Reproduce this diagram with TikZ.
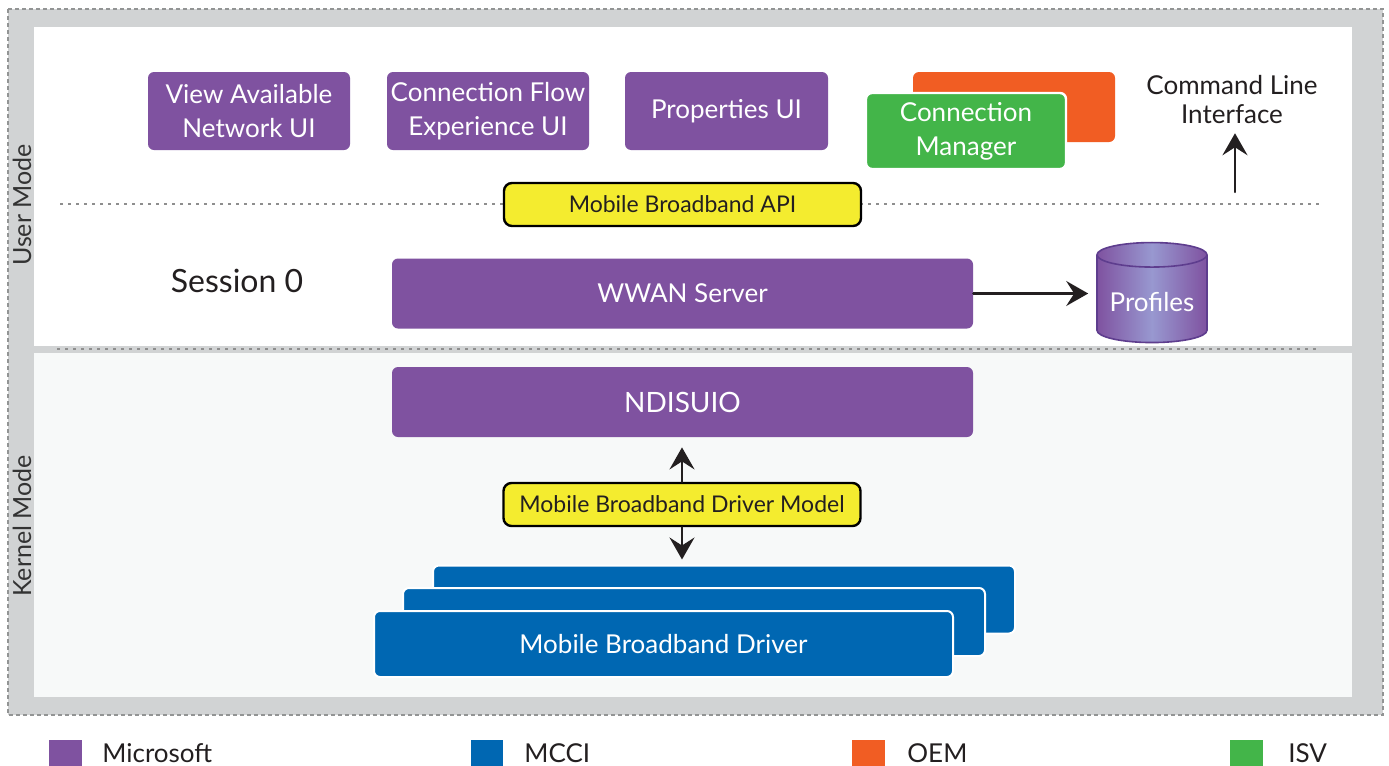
\documentclass[tikz,border=0pt]{standalone}
\usepackage{fontspec}
\setmainfont{Lato}
\usepackage{tikz}
\usetikzlibrary{arrows.meta, shapes.geometric, positioning}
\definecolor{msPurple}{HTML}{7F52A0}
\definecolor{msLavender}{HTML}{9898D0}
\definecolor{msRim}{HTML}{5E3D8E}
\definecolor{mcciBlue}{HTML}{0067B2}
\definecolor{oemOrange}{HTML}{F15D23}
\definecolor{isvGreen}{HTML}{43B549}
\definecolor{apiYellow}{HTML}{F4EC2F}
\definecolor{frameGray}{HTML}{D1D3D4}
\definecolor{kernelBg}{HTML}{F7F9F9}
\definecolor{dotGray}{HTML}{8E8E8E}
\definecolor{inkBlack}{HTML}{231F20}

\begin{document}
\begin{tikzpicture}[x=0.5pt, y=-0.5pt, style={line cap=round},
  ui/.style={rounded corners=3pt, align=center, text=white, inner sep=0pt,
    font=\fontsize{13}{17}\selectfont},
  msbox/.style={ui, fill=msPurple},
  wide/.style={msbox, minimum width=290.5pt, minimum height=35pt},
  drvbox/.style={ui, fill=mcciBlue, draw=white, line width=1pt, minimum width=291pt, minimum height=34pt},
  api/.style={rounded corners=4pt, fill=apiYellow, draw=black, line width=1.2pt, text=inkBlack,
    minimum width=178.5pt, minimum height=21.5pt, inner sep=0pt, font=\fontsize{11.5}{13}\selectfont},
  arr/.style={line width=1.2pt, inkBlack, -{Stealth[length=11pt, width=12.5pt, inset=4pt]}},
  dots/.style={dotGray, line width=1.3pt, line cap=butt, dash pattern=on 1.3pt off 2.7pt},
  sidelabel/.style={rotate=90, text=black!80, font=\fontsize{12.5}{14}\selectfont},
  legend/.style={anchor=base west, inner sep=0pt, text=inkBlack, font=\fontsize{13}{15}\selectfont}]
  \useasboundingbox (0,0) rectangle (1389,766);

  % frame and the two panels
  \draw[frameGray!70!black, line width=0.6pt, line cap=butt, dash pattern=on 2pt off 1.5pt, fill=frameGray] (8,9) rectangle (1383,715);
  \fill[white] (34,27) rectangle (1352,346);
  \fill[kernelBg] (34,353) rectangle (1352,697);
  \draw[dots] (57,349) -- (1317,349);
  \draw[dots] (60,204) -- (1320,204);

  \node[sidelabel] (userMode) at (22,205) {User Mode};
  \node[sidelabel] (kernelMode) at (22,526) {Kernel Mode};

  % user mode
  \node[msbox, minimum width=101pt, minimum height=39pt] (avail) at (249,111) {View Available\\Network UI};
  \node[msbox, minimum width=101pt, minimum height=39pt] (flow) at (488,111) {Connection Flow\\Experience UI};
  \node[msbox, minimum width=101.5pt, minimum height=39pt] (props) at (726.5,111) {Properties UI};
  \node[ui, fill=oemOrange, minimum width=101pt, minimum height=35pt] (oem) at (1014,107) {};
  \node[ui, fill=isvGreen, draw=white, line width=1.2pt, minimum width=100pt, minimum height=38pt] (connMgr) at (966,131) {Connection\\Manager};
  \node[align=center, text=inkBlack, font=\fontsize{13}{14.5}\selectfont] (cli) at (1232,100) {Command Line\\Interface};
  \coordinate (cliFoot) at (1235,192);
  \draw[arr, shorten >=1pt] (cliFoot) -- (cliFoot |- cli.south);

  \node[api] (bbApi) at (682.5,204.5) {Mobile Broadband API};
  \node[text=inkBlack, font=\fontsize{16}{18}\selectfont] (session) at (237,281) {Session 0};
  \node[wide] (wwan) at (682.5,293.5) {WWAN Server};
  \node[cylinder, shape border rotate=90, aspect=0.25, minimum width=55pt, minimum height=50pt,
    draw=msRim, line width=0.8pt, left color=msPurple, right color=msPurple, middle color=msLavender,
    text=white, font=\fontsize{13}{15}\selectfont] (profiles) at (1152,302) {Profiles};
  \draw[arr, shorten >=4pt] (wwan.east) -- (wwan.east -| profiles.west);

  % kernel mode
  \node[wide, font=\fontsize{14}{16}\selectfont] (ndisuio) at (682.5,402) {NDISUIO};
  \node[api] (bbModel) at (682,504.5) {Mobile Broadband Driver Model};
  \node[drvbox] (drvBack) at (724,599.5) {};
  \node[drvbox] (drvMid) at (694,622) {};
  \node[drvbox, minimum width=289.5pt, minimum height=33pt] (drvFront) at (663.5,644) {Mobile Broadband Driver};
  \draw[arr, shorten >=5pt] (bbModel.north) -- (bbModel.north |- ndisuio.south);
  \draw[arr, shorten >=2.5pt] (bbModel.south) -- (bbModel.south |- drvBack.north);

  % legend
  \fill[msPurple] (49,740) rectangle (82,770);
  \node[legend] (legMs) at (102,762) {Microsoft};
  \fill[mcciBlue] (471,740) rectangle (503,770);
  \node[legend] (legMcci) at (524,762) {MCCI};
  \fill[oemOrange] (852,740) rectangle (885,770);
  \node[legend] (legOem) at (907,762) {OEM};
  \fill[isvGreen] (1230,740) rectangle (1263,770);
  \node[legend] (legIsv) at (1288,762) {ISV};
\end{tikzpicture}
\end{document}
